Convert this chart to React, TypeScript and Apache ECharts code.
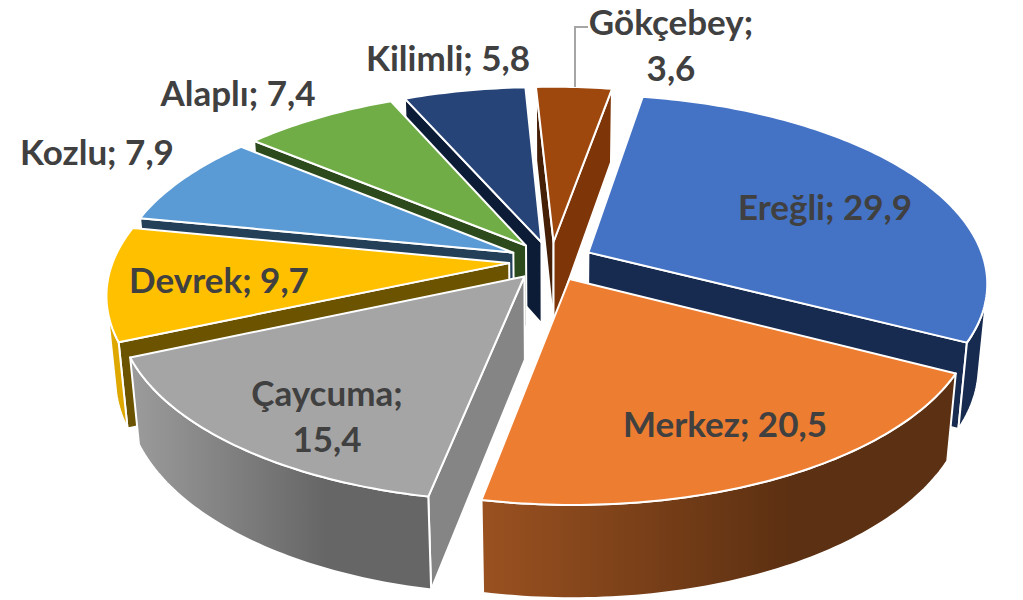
import React, { useEffect, useRef } from "react";
import * as echarts from "echarts";

const categories = ["Ereğli", "Merkez", "Çaycuma", "Devrek", "Kozlu", "Alaplı", "Kilimli", "Gökçebey"];
const values = [29.9, 20.5, 15.4, 9.7, 7.9, 7.4, 5.8, 3.6];
const topColors = ["#4472C4", "#ED7D31", "#A5A5A5", "#FFC000", "#5B9BD5", "#70AD47", "#264478", "#9E480E"];
const startWallColors = ["#172B50", "#8A8A8A", "#858585", "#6B5300", "#234058", "#2D4A1C", "#0D1C36", "#451F06"];
const endWallColors = ["#172B50", "#5C3012", "#858585", "#6B5300", "#234058", "#2D4A1C", "#0D1C36", "#7E3508"];
const arcLeftColors = ["#172B50", "#9A5120", "#9C9C9C", "#DFA800", "#234058", "#2D4A1C", "#0D1C36", "#7E3508"];
const arcRightColors = ["#172B50", "#5C3012", "#666666", "#DFA800", "#234058", "#2D4A1C", "#0D1C36", "#7E3508"];
const labelAnchors: [number, number][] = [
  [825, 206], [725, 423], [327, 415], [219, 279], [97, 151], [238, 92], [448, 57], [671, 44],
];
const startAngle = 10;

const CX = 551, CY = 261, R = 396, EXPLODE = 42, H = 95, D = 2250;
const TILT = (27.8 * Math.PI) / 180;
const SIN = Math.sin(TILT), COS = Math.cos(TILT);
const RAD = Math.PI / 180;
const total = values.reduce((a, b) => a + b, 0);

function project(x: number, y: number, z: number): [number, number] {
  const c = y * COS + z * SIN;
  const f = D / (D - c);
  return [CX + f * x, CY + f * (y * SIN - z * COS)];
}

function angles(i: number): [number, number] {
  const before = values.slice(0, i).reduce((a, b) => a + b, 0);
  return [startAngle + (before / total) * 360, startAngle + ((before + values[i]) / total) * 360];
}

const paintOrder = values
  .map((_, i) => i)
  .sort((a, b) => {
    const ma = (angles(a)[0] + angles(a)[1]) / 2;
    const mb = (angles(b)[0] + angles(b)[1]) / 2;
    return -Math.cos(ma * RAD) - -Math.cos(mb * RAD);
  });

function renderSlice(_params: any, api: any) {
  const i = api.value(0) as number;
  const [a1, a2] = angles(i);
  const mid = ((a1 + a2) / 2) * RAD;
  const ox = EXPLODE * Math.sin(mid);
  const oy = -EXPLODE * Math.cos(mid);
  const camY = D * COS;
  const rim = (deg: number, z: number) =>
    project(ox + R * Math.sin(deg * RAD), oy - R * Math.cos(deg * RAD), z);
  const stroke = { stroke: "#ffffff", lineWidth: 2, lineJoin: "round" };
  const children: any[] = [];
  const poly = (points: number[][], fill: any) =>
    children.push({ type: "polygon", silent: true, shape: { points }, style: { fill, ...stroke } });

  const steps = Math.ceil((a2 - a1) / 1);
  const samples: number[] = [];
  for (let k = 0; k <= steps; k++) samples.push(a1 + ((a2 - a1) * k) / steps);

  const tipTop = project(ox, oy, 0);
  const tipBottom = project(ox, oy, -H);

  const wallVisible = (nx: number, ny: number) => nx * -ox + ny * (camY - oy) > 0;
  if (wallVisible(-Math.cos(a1 * RAD), -Math.sin(a1 * RAD)))
    poly([tipTop, rim(a1, 0), rim(a1, -H), tipBottom], startWallColors[i]);
  if (wallVisible(Math.cos(a2 * RAD), Math.sin(a2 * RAD)))
    poly([tipTop, rim(a2, 0), rim(a2, -H), tipBottom], endWallColors[i]);

  const arc = samples.filter((deg) => {
    const nx = Math.sin(deg * RAD), ny = -Math.cos(deg * RAD);
    const px = ox + R * nx, py = oy + R * ny;
    return nx * -px + ny * (camY - py) > 0;
  });
  if (arc.length > 1) {
    const pts = [...arc.map((d) => rim(d, 0)), ...arc.slice().reverse().map((d) => rim(d, -H))];
    const xs = pts.map((p) => p[0]);
    poly(pts, {
      type: "linear",
      global: true,
      x: Math.min(...xs), y: 0, x2: Math.max(...xs), y2: 0,
      colorStops: [
        { offset: 0, color: arcLeftColors[i] },
        { offset: 0.65, color: arcRightColors[i] },
        { offset: 1, color: arcRightColors[i] },
      ],
    });
  }
  poly([tipTop, ...samples.map((d) => rim(d, 0))], topColors[i]);
  return { type: "group", children };
}

function labelText(i: number) {
  const v = values[i].toFixed(1).replace(".", ",");
  const sep = categories[i] === "Çaycuma" || categories[i] === "Gökçebey" ? "\n" : " ";
  return `${categories[i]};${sep}${v}`;
}

export default function App() {
  const ref = useRef<HTMLDivElement>(null);
  useEffect(() => {
    const chart = echarts.init(ref.current!, undefined, { renderer: "svg" });
    chart.setOption({
      animation: false,
      backgroundColor: "#ffffff",
      series: [
        {
          type: "custom",
          coordinateSystem: "none",
          silent: true,
          clip: false,
          renderItem: renderSlice,
          data: paintOrder.map((i) => [i, values[i]]),
        },
      ],
      graphic: [
        {
          type: "polyline",
          z: 50,
          silent: true,
          shape: { points: [[575, 87], [575, 27], [588, 27]] },
          style: { stroke: "#A6A6A6", lineWidth: 2, fill: "none" },
        },
        ...categories.map((_, i) => ({
          type: "text",
          z: 60,
          silent: true,
          x: labelAnchors[i][0],
          y: labelAnchors[i][1],
          style: {
            text: labelText(i),
            font: "bold 35px Lato",
            fill: "#404040",
            align: "center",
            verticalAlign: "middle",
            lineHeight: 46,
          },
        })),
      ],
    });
    return () => chart.dispose();
  }, []);
  return <div ref={ref} style={{ position: "fixed", left: 0, top: 0, width: 1023, height: 600 }} />;
}
